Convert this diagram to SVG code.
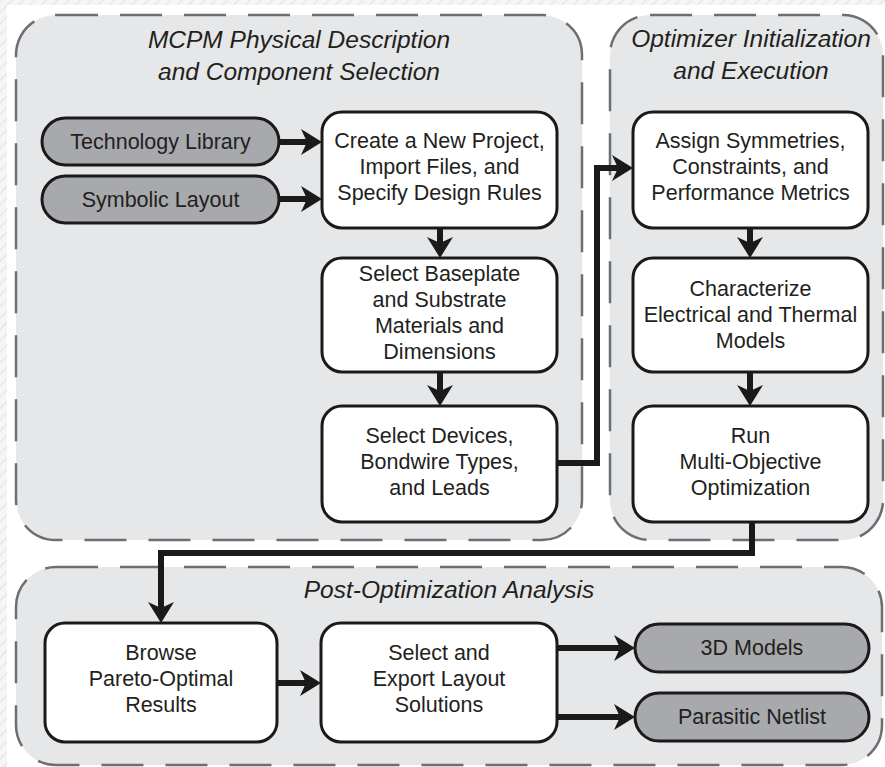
<svg xmlns="http://www.w3.org/2000/svg" xmlns:xlink="http://www.w3.org/1999/xlink" width="885" height="767" viewBox="0 0 885 767">
  <style>
    .panel { fill: #e6e7e8; stroke: #6d6e71; stroke-width: 2.5; stroke-dasharray: 42 22; }
    .box { fill: #ffffff; stroke: #1a1a1a; stroke-width: 3; }
    .pill { fill: #a7a9ac; stroke: #1a1a1a; stroke-width: 3; }
    .title { font-family: "Liberation Sans", Arial, sans-serif; font-style: italic; font-size: 24.5px; fill: #231f20; text-anchor: middle; }
    .lbl { font-family: "Liberation Sans", Arial, sans-serif; font-size: 21.5px; fill: #231f20; text-anchor: middle; }
    .wire { fill: none; stroke: #1a1a1a; stroke-width: 6; stroke-linejoin: miter; }
    .head { fill: #1a1a1a; }
  </style>
  <defs>
    <pattern id="hatch" width="8" height="8" patternUnits="userSpaceOnUse" patternTransform="rotate(45)">
      <rect width="8" height="8" fill="#f6f6f6"/>
      <line x1="0" y1="0" x2="0" y2="8" stroke="#e6e6e6" stroke-width="3"/>
    </pattern>
    <path id="ah" d="M0,0 L-21,-13 L-15,0 L-21,13 Z"/>
  </defs>

  <!-- page background -->
  <rect x="0" y="0" width="885" height="767" fill="url(#hatch)"/>
  <rect x="7" y="5" width="878" height="762" fill="#ffffff"/>

  <!-- stage panels -->
  <g id="panel-physical">
    <rect class="panel" x="16" y="15" width="566" height="525" rx="40"/>
    <text class="title" x="299" y="48">MCPM Physical Description</text>
    <text class="title" x="299" y="80">and Component Selection</text>
  </g>
  <g id="panel-optimizer">
    <rect class="panel" x="610" y="15" width="273" height="525" rx="40"/>
    <text class="title" x="751" y="47">Optimizer Initialization</text>
    <text class="title" x="751" y="79">and Execution</text>
  </g>
  <g id="panel-post">
    <rect class="panel" x="16" y="567" width="866" height="198" rx="40"/>
    <text class="title" x="449" y="598">Post-Optimization Analysis</text>
  </g>

  <!-- inputs -->
  <g id="tech-library">
    <rect class="pill" x="42" y="118" width="237" height="47" rx="23.5"/>
    <text class="lbl" x="160.5" y="149">Technology Library</text>
  </g>
  <g id="symbolic-layout">
    <rect class="pill" x="42" y="176" width="237" height="47" rx="23.5"/>
    <text class="lbl" x="160.5" y="207">Symbolic Layout</text>
  </g>

  <!-- left column -->
  <g id="create-project">
    <rect class="box" x="322" y="112" width="235" height="116" rx="20"/>
    <text class="lbl" x="439.5" y="148">Create a New Project,</text>
    <text class="lbl" x="439.5" y="174">Import Files, and</text>
    <text class="lbl" x="439.5" y="200">Specify Design Rules</text>
  </g>
  <g id="select-baseplate">
    <rect class="box" x="322" y="258" width="235" height="114" rx="20"/>
    <text class="lbl" x="439.5" y="281">Select Baseplate</text>
    <text class="lbl" x="439.5" y="307">and Substrate</text>
    <text class="lbl" x="439.5" y="333">Materials and</text>
    <text class="lbl" x="439.5" y="359">Dimensions</text>
  </g>
  <g id="select-devices">
    <rect class="box" x="322" y="406" width="235" height="116" rx="20"/>
    <text class="lbl" x="439.5" y="443">Select Devices,</text>
    <text class="lbl" x="439.5" y="469">Bondwire Types,</text>
    <text class="lbl" x="439.5" y="495">and Leads</text>
  </g>

  <!-- right column -->
  <g id="assign-symmetries">
    <rect class="box" x="633" y="112" width="235" height="116" rx="20"/>
    <text class="lbl" x="750.5" y="148">Assign Symmetries,</text>
    <text class="lbl" x="750.5" y="174">Constraints, and</text>
    <text class="lbl" x="750.5" y="200">Performance Metrics</text>
  </g>
  <g id="characterize">
    <rect class="box" x="633" y="258" width="235" height="114" rx="20"/>
    <text class="lbl" x="750.5" y="296">Characterize</text>
    <text class="lbl" x="750.5" y="322">Electrical and Thermal</text>
    <text class="lbl" x="750.5" y="348">Models</text>
  </g>
  <g id="run-optimization">
    <rect class="box" x="633" y="406" width="235" height="116" rx="20"/>
    <text class="lbl" x="750.5" y="443">Run</text>
    <text class="lbl" x="750.5" y="469">Multi-Objective</text>
    <text class="lbl" x="750.5" y="495">Optimization</text>
  </g>

  <!-- post-optimization row -->
  <g id="browse-results">
    <rect class="box" x="45" y="623" width="232" height="119" rx="20"/>
    <text class="lbl" x="161" y="660">Browse</text>
    <text class="lbl" x="161" y="686">Pareto-Optimal</text>
    <text class="lbl" x="161" y="712">Results</text>
  </g>
  <g id="export-layout">
    <rect class="box" x="321" y="623" width="236" height="119" rx="20"/>
    <text class="lbl" x="439" y="660">Select and</text>
    <text class="lbl" x="439" y="686">Export Layout</text>
    <text class="lbl" x="439" y="712">Solutions</text>
  </g>
  <g id="models-3d">
    <rect class="pill" x="635" y="624" width="234" height="48" rx="24"/>
    <text class="lbl" x="752" y="655">3D Models</text>
  </g>
  <g id="parasitic-netlist">
    <rect class="pill" x="635" y="693" width="234" height="48" rx="24"/>
    <text class="lbl" x="752" y="724">Parasitic Netlist</text>
  </g>

  <!-- connectors -->
  <g id="connectors">
    <path class="wire" d="M279,142 H308"/>
    <use xlink:href="#ah" class="head" transform="translate(322,142)"/>
    <path class="wire" d="M279,199 H308"/>
    <use xlink:href="#ah" class="head" transform="translate(322,199)"/>

    <path class="wire" d="M440,228 V244"/>
    <use xlink:href="#ah" class="head" transform="translate(440,258) rotate(90)"/>
    <path class="wire" d="M440,372 V392"/>
    <use xlink:href="#ah" class="head" transform="translate(440,406) rotate(90)"/>

    <path class="wire" d="M557,463 H597 V168 H619"/>
    <use xlink:href="#ah" class="head" transform="translate(633,168)"/>

    <path class="wire" d="M750,228 V244"/>
    <use xlink:href="#ah" class="head" transform="translate(750,258) rotate(90)"/>
    <path class="wire" d="M750,372 V392"/>
    <use xlink:href="#ah" class="head" transform="translate(750,406) rotate(90)"/>

    <path class="wire" d="M752,522 V553 H161 V609"/>
    <use xlink:href="#ah" class="head" transform="translate(161,623) rotate(90)"/>

    <path class="wire" d="M277,683 H307"/>
    <use xlink:href="#ah" class="head" transform="translate(321,683)"/>
    <path class="wire" d="M557,648 H621"/>
    <use xlink:href="#ah" class="head" transform="translate(635,648)"/>
    <path class="wire" d="M557,717 H621"/>
    <use xlink:href="#ah" class="head" transform="translate(635,717)"/>
  </g>
</svg>
